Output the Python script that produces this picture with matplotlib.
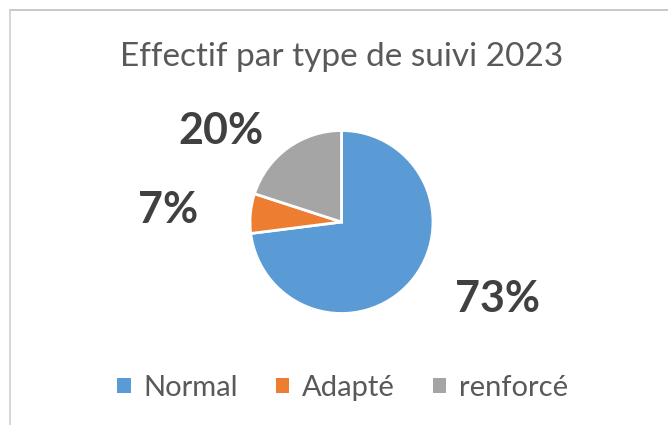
import matplotlib
matplotlib.use("Agg")
import numpy as np
import matplotlib.pyplot as plt
from matplotlib.lines import Line2D
from matplotlib.patches import Patch

# data
categories = ["Normal", "Adapté", "renforcé"]
values = [73, 7, 20]
colors = ["#5B9BD5", "#ED7D31", "#A5A5A5"]
title = "Effectif par type de suivi 2023"

# label placement (radius factor, angle tweak in degrees) -- Excel "best fit" look
label_pos = [(1.9, 15), (1.9, 1.5), (1.65, 17)]

W, H = 668, 425
cx, cy, R = 341.5, 222, 91.5  # pie centre / radius in pixels

plt.rcParams["font.family"] = ["Lato", "DejaVu Sans"]
fig = plt.figure(figsize=(W / 100, H / 100), dpi=100)
ax = fig.add_axes([0, 0, 1, 1])
ax.set_axis_off()

wedges, _ = ax.pie(values, colors=colors, startangle=90, counterclock=False,
                   radius=1, wedgeprops=dict(edgecolor="white", linewidth=2))
ax.set_xlim(-cx / R, (W - cx) / R)
ax.set_ylim(-(H - cy) / R, cy / R)
ax.set_aspect("auto")

total = sum(values)
for w, v, (rf, dth) in zip(wedges, values, label_pos):
    ang = np.deg2rad((w.theta1 + w.theta2) / 2 + dth)
    ax.text(rf * np.cos(ang), rf * np.sin(ang), f"{round(100 * v / total)}%",
            ha="center", va="center", fontsize=31, fontweight="bold", color="#404040")

fig.text(342 / W, 1 - 57 / H, title, ha="center", va="center",
         fontsize=24, color="#595959")

handles = [Patch(facecolor=c, edgecolor="none") for c in colors]
fig.legend(handles, categories, loc="center", bbox_to_anchor=(343 / W, 1 - 388 / H),
           ncol=3, frameon=False, fontsize=21, labelcolor="#595959",
           handlelength=0.45, handleheight=0.45, handletextpad=0.45, columnspacing=1.3)

# chart frame (only top and left edges visible in the crop)
fig.add_artist(Line2D([9.5 / W, 1], [1 - 10 / H, 1 - 10 / H], color="#BFBFBF", lw=1.2))
fig.add_artist(Line2D([9.5 / W, 9.5 / W], [0, 1 - 10 / H], color="#D0D0D0", lw=1.2))

fig.savefig("out.png", dpi=100)
